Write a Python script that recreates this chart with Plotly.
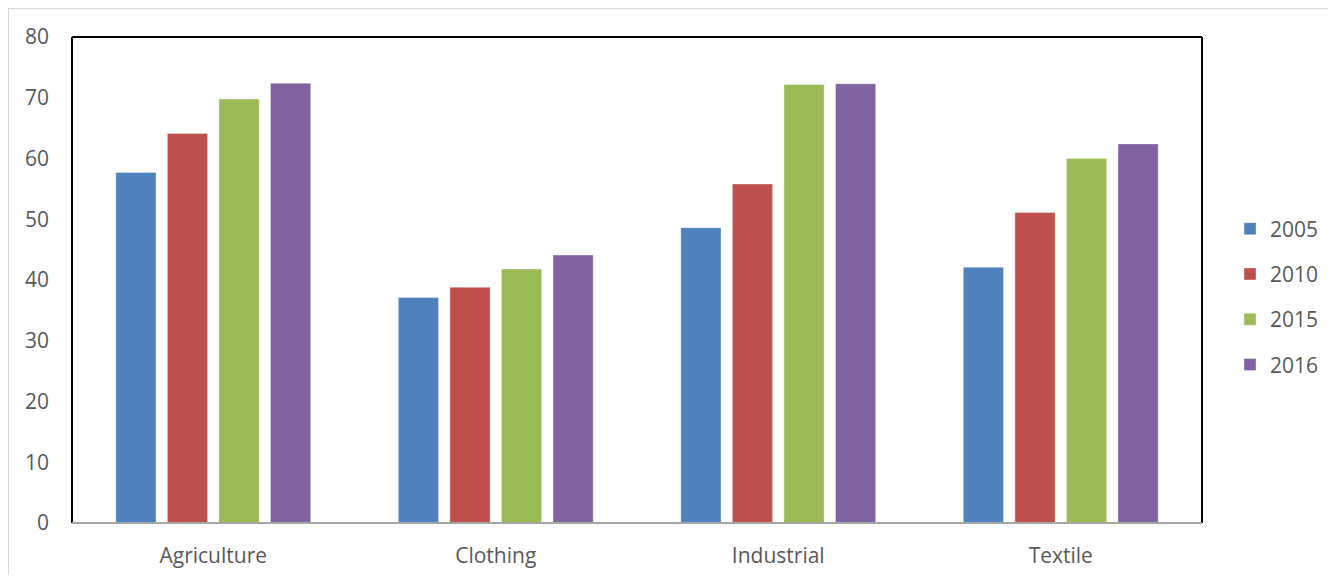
import plotly.graph_objects as go

categories = ["Agriculture", "Clothing", "Industrial", "Textile"]
years = ["2005", "2010", "2015", "2016"]
values_2005 = [57.7, 37.1, 48.6, 42.1]
values_2010 = [64.1, 38.8, 55.8, 51.1]
values_2015 = [69.8, 41.8, 72.2, 60.0]
values_2016 = [72.4, 44.1, 72.3, 62.4]
series = [values_2005, values_2010, values_2015, values_2016]
colors = ["#4F81BD", "#C0504D", "#9BBB59", "#8064A2"]
y_ticks = [0, 10, 20, 30, 40, 50, 60, 70, 80]

FONT = "Open Sans"
TXT = "#595959"
FS = 21

fig = go.Figure()
for yr, vals, col in zip(years, series, colors):
    fig.add_trace(go.Bar(
        x=categories, y=vals, name=yr, legendgroup=yr,
        marker=dict(color=col, line=dict(color="rgba(255,255,255,0.35)", width=1)),
    ))

# page body has an 8px margin; figure coordinates below are relative to the figure
OFF = 8
W, H = 1336 - 2 * OFF, 583 - 2 * OFF
L, T = 72 - OFF, 37 - OFF
R = W - (1202 - OFF)
B = H - (523 - OFF)
pw, ph = W - L - R, H - T - B

def px(x):
    return (x - L) / pw

def py(y):
    return (H - B - y) / ph

shapes = [
    # outer light grey chart border
    dict(type="rect", xref="paper", yref="paper", x0=px(0), x1=px(1400), y0=py(0), y1=py(640),
         line=dict(color="#D9D9D9", width=2), fillcolor="rgba(0,0,0,0)", layer="below"),
    # plot area border (left, top, right in black)
    dict(type="line", xref="paper", yref="paper", x0=0, x1=0, y0=0, y1=1, line=dict(color="black", width=2)),
    dict(type="line", xref="paper", yref="paper", x0=0, x1=1, y0=1, y1=1, line=dict(color="black", width=2)),
    dict(type="line", xref="paper", yref="paper", x0=1, x1=1, y0=0, y1=1, line=dict(color="black", width=2)),
    # bottom category axis line in grey
    dict(type="line", xref="paper", yref="paper", x0=0, x1=1, y0=0, y1=0, line=dict(color="#A6A6A6", width=2)),
]

fig.update_layout(
    width=W, height=H,
    margin=dict(l=L, r=R, t=T, b=B, pad=0, autoexpand=False),
    paper_bgcolor="white", plot_bgcolor="white",
    barmode="group", bargap=0.27, bargroupgap=0.22,
    font=dict(family=FONT, size=FS, color=TXT),
    showlegend=True,
    legend=dict(xref="container", yref="container",
                x=1222 / W, xanchor="left", y=1 - 289 / H, yanchor="middle",
                traceorder="grouped", tracegroupgap=15,
                font=dict(family=FONT, size=FS, color=TXT), bgcolor="rgba(0,0,0,0)"),
    shapes=shapes,
)
fig.update_xaxes(showgrid=False, showline=False, zeroline=False, ticks="", automargin=False,
                 tickfont=dict(family=FONT, size=FS, color=TXT), ticklabelstandoff=18)
fig.update_yaxes(range=[0, 80], tickvals=y_ticks, showgrid=False, showline=False, zeroline=False,
                 ticks="", automargin=False,
                 tickfont=dict(family=FONT, size=FS, color=TXT), ticklabelstandoff=22)

fig.write_html("out.html")
